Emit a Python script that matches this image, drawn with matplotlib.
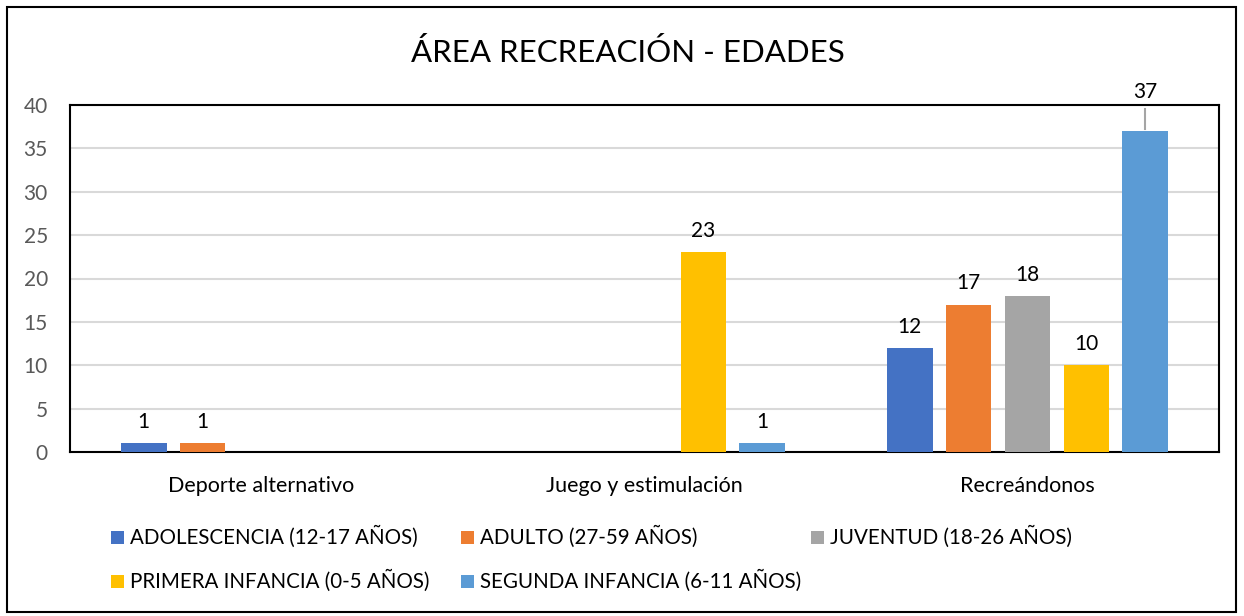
import numpy as np
import matplotlib
matplotlib.use("Agg")
import matplotlib.pyplot as plt
from matplotlib.patches import Rectangle

plt.rcParams['font.family'] = ['Lato', 'DejaVu Sans']

# datos
categorias = ["Deporte alternativo", "Juego y estimulación", "Recreándonos"]
series = ["ADOLESCENCIA (12-17 AÑOS)", "ADULTO (27-59 AÑOS)", "JUVENTUD (18-26 AÑOS)",
          "PRIMERA INFANCIA (0-5 AÑOS)", "SEGUNDA INFANCIA (6-11 AÑOS)"]
adolescencia = [1, 0, 12]
adulto = [1, 0, 17]
juventud = [0, 0, 18]
primera_infancia = [0, 23, 10]
segunda_infancia = [0, 1, 37]
valores = [adolescencia, adulto, juventud, primera_infancia, segunda_infancia]
colores = ["#4472C4", "#ED7D31", "#A5A5A5", "#FFC000", "#5B9BD5"]
yticks = [0, 5, 10, 15, 20, 25, 30, 35, 40]

fig = plt.figure(figsize=(12.44, 6.16), dpi=100)
ax = fig.add_axes([70/1244, 1-452/616, (1219-70)/1244, (452-105)/616])

x = np.arange(len(categorias))
paso = 0.154
ancho = 0.12
for i, (vals, col) in enumerate(zip(valores, colores)):
    pos = x + (i - 2) * paso
    ax.bar(pos, vals, width=ancho, color=col, zorder=3)
    for p, v in zip(pos, vals):
        if v == 0:
            continue
        if v > 35:
            # etiqueta fuera del area con linea guia
            ax.plot([p, p], [v + 0.2, v + 2.5], color="#A5A5A5", lw=1.5, clip_on=False, zorder=4)
            ax.text(p, v + 3.4, str(v), ha="center", va="bottom", fontsize=15, clip_on=False)
        else:
            ax.annotate(str(v), (p, v), xytext=(0, 8), textcoords="offset points",
                        ha="center", va="bottom", fontsize=15)

ax.set_xlim(-0.5, 2.5)
ax.set_ylim(0, 40)
ax.set_yticks(yticks)
ax.set_xticks(x)
ax.set_xticklabels(categorias, fontsize=15.5)
ax.tick_params(axis="y", labelsize=15, labelcolor="#595959", length=0, pad=16)
ax.tick_params(axis="x", length=0, pad=17)
ax.grid(axis="y", color="#D9D9D9", lw=1.5, zorder=0)
for s in ax.spines.values():
    s.set_color("black")
    s.set_linewidth(1.5)

fig.text(628/1244, 1-52/616, "ÁREA RECREACIÓN - EDADES", ha="center", va="center", fontsize=22.5)

# leyenda manual
col_x = [111, 461, 811]
fila_y = [537, 581]
for i, (nombre, col) in enumerate(zip(series, colores)):
    cx = col_x[i % 3]
    cy = fila_y[i // 3]
    fig.patches.append(Rectangle((cx/1244, 1-(cy+7)/616), 13/1244, 13/616,
                                 transform=fig.transFigure, facecolor=col, edgecolor="none"))
    fig.text((cx+19)/1244, 1-cy/616, nombre, ha="left", va="center", fontsize=14.8)

# marco exterior
fig.patches.append(Rectangle((7/1244, 1-612/616), 1229/1244, 605/616,
                             transform=fig.transFigure, fill=False, edgecolor="black", lw=1.5))

fig.savefig("out.png", dpi=100)
